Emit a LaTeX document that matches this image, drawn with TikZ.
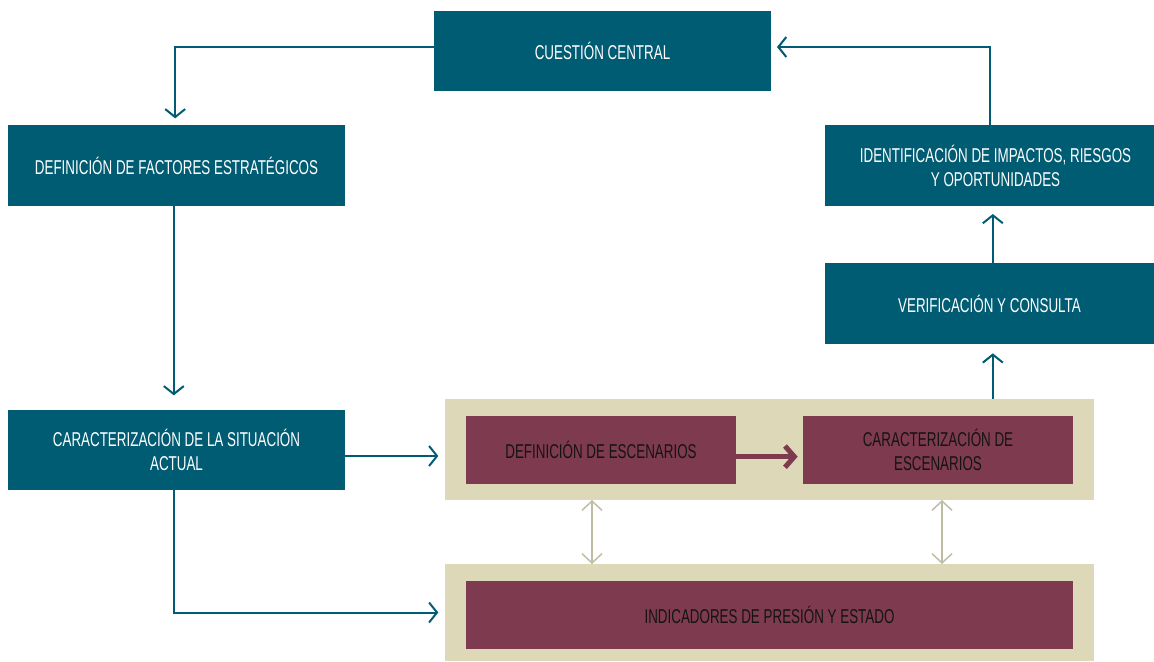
\documentclass[tikz,border=0pt]{standalone}
\usepackage{fontspec}
\setmainfont{Liberation Sans}[FakeStretch=0.67]
\usetikzlibrary{arrows.meta,calc}
\definecolor{teal1}{HTML}{005C73}
\definecolor{maroon1}{HTML}{7E3A4E}
\definecolor{beige1}{HTML}{DDD8B8}
\definecolor{grayarr}{HTML}{BFBCA4}
\definecolor{darktxt}{HTML}{141414}
\tikzset{
  wh/.style 2 args={minimum width=#1*0.75pt, minimum height=#2*0.75pt, inner sep=0pt, outer sep=0pt},
  boxtxt/.style={font=\fontsize{15pt}{18pt}\selectfont, align=center},
  tealbox/.style={fill=teal1, text=white, boxtxt},
  maroonbox/.style={fill=maroon1, text=darktxt, boxtxt},
  beigebox/.style={fill=beige1},
  tarrow/.style={draw=teal1, line width=1.5pt, -{Straight Barb[length=6pt,width=15pt,line width=1.5pt]}},
  marrow/.style={draw=maroon1, line width=3.8pt, -{Straight Barb[length=7pt,width=16pt,line width=3.8pt]}},
  garrow/.style={draw=grayarr, line width=1.1pt, {Straight Barb[length=7pt,width=15pt,line width=1.1pt]}-{Straight Barb[length=7pt,width=15pt,line width=1.1pt]}}
}
\begin{document}
\begin{tikzpicture}[x=0.75pt,y=-0.75pt]
\useasboundingbox (0,0) rectangle (1154,661);
% boxes
\node[tealbox, wh={337}{80}] (cc) at (602.5,51) {CUESTIÓN CENTRAL};
\node[tealbox, wh={337}{81}] (dfe) at (176.5,165.5) {DEFINICIÓN DE FACTORES ESTRATÉGICOS};
\node[tealbox, wh={337}{80}] (csa) at (176.5,450) {CARACTERIZACIÓN DE LA SITUACIÓN\\ACTUAL};
\node[tealbox, wh={329}{81}] (ident) at (989.5,165.5) {\hspace*{9pt}IDENTIFICACIÓN DE IMPACTOS, RIESGOS\\\hspace*{9pt}Y OPORTUNIDADES};
\node[tealbox, wh={329}{81}] (verif) at (989.5,303.5) {VERIFICACIÓN Y CONSULTA};
\node[beigebox, wh={649}{101}] (b1) at (769.5,449.5) {};
\node[beigebox, wh={649}{97}] (b2) at (769.5,612.5) {};
\node[maroonbox, wh={270}{68}] (de) at (601,450) {DEFINICIÓN DE ESCENARIOS};
\node[maroonbox, wh={270}{68}] (ce) at (938,450) {CARACTERIZACIÓN DE\\ESCENARIOS};
\node[maroonbox, wh={607}{68}] (ipe) at (769.5,615) {INDICADORES DE PRESIÓN Y ESTADO};
% connectors
\draw[tarrow, shorten >=5pt] ([yshift=3pt]cc.west) -| ([xshift=-1pt]dfe.north);
\draw[tarrow, shorten >=11pt] ([xshift=-2pt]dfe.south) -- ([xshift=-2pt]csa.north);
\draw[tarrow, shorten >=5pt] ([yshift=-4.5pt]csa.east) -- ([yshift=-4.5pt]csa.east -| b1.west);
\draw[tarrow, shorten >=5pt] ([xshift=-2pt]csa.south) |- (b2.west);
\draw[marrow, shorten >=4pt] ([yshift=-5pt]de.east) -- ([yshift=-5pt]de.east -| ce.west);
\draw[tarrow, shorten >=7pt] ([xshift=2.5pt]verif.south |- b1.north) -- ([xshift=2.5pt]verif.south);
\draw[tarrow, shorten >=6pt] ([xshift=2.5pt]verif.north) -- ([xshift=2.5pt]ident.south);
\draw[tarrow, shorten >=4.5pt] (ident.north) |- ([yshift=3pt]cc.east);
\coordinate (g1t) at (592,0);
\draw[garrow] (g1t |- b1.south) -- (g1t |- b2.north);
\coordinate (g2t) at (942,0);
\draw[garrow] (g2t |- b1.south) -- (g2t |- b2.north);
\end{tikzpicture}
\end{document}
